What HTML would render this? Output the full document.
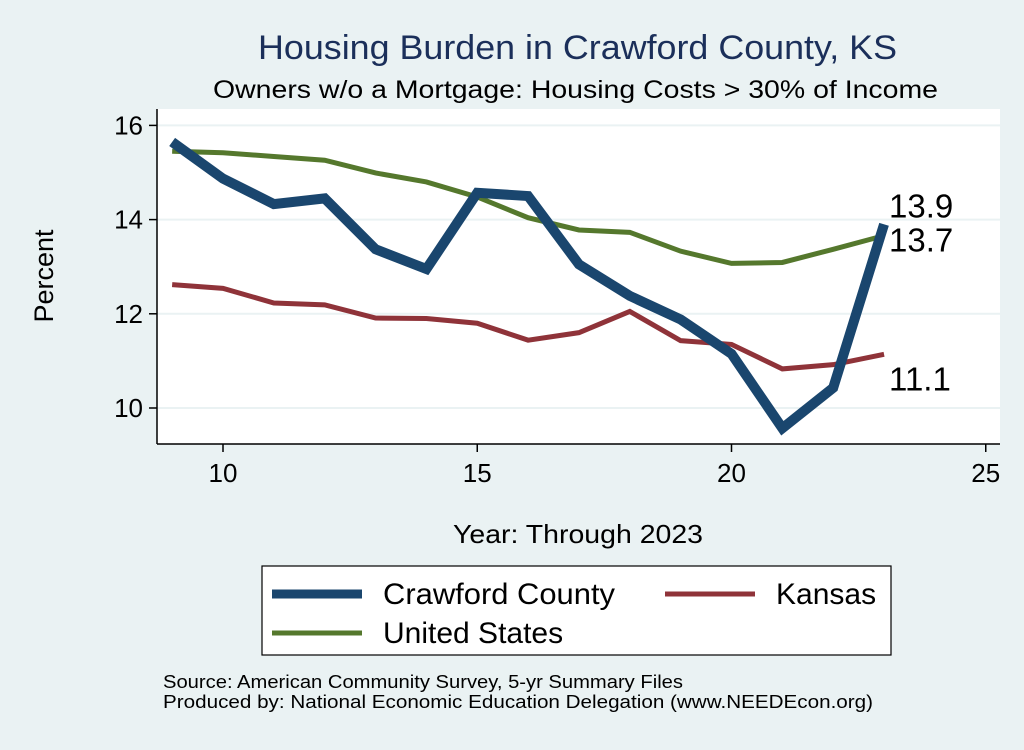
<!DOCTYPE html>
<html><head><meta charset="utf-8"><style>
body{margin:0;background:#EAF2F3;}
svg text{font-family:"Liberation Sans",sans-serif;}
</style></head><body>
<svg width="1024" height="745" viewBox="0 0 1024 745" xmlns="http://www.w3.org/2000/svg">
<rect width="1024" height="745" fill="#EAF2F3"/>
<text x="258" y="59" font-size="34" fill="#1B2F5A" textLength="639" lengthAdjust="spacingAndGlyphs">Housing Burden in Crawford County, KS</text>
<text x="213" y="98" font-size="25" fill="#000" textLength="725" lengthAdjust="spacingAndGlyphs">Owners w/o a Mortgage: Housing Costs &gt; 30% of Income</text>
<rect x="157" y="109" width="843" height="335" fill="#fff"/>
<g id="grid"></g>
<g id="series"></g>
<line x1="157" y1="109" x2="157" y2="444" stroke="#000" stroke-width="1.5"/>
<line x1="157" y1="444" x2="1000" y2="444" stroke="#000" stroke-width="1.5"/>
<g id="axes"></g>
<text x="53" y="276" font-size="27" text-anchor="middle" transform="rotate(-90 53 276)">Percent</text>
<text x="453" y="543" font-size="26" textLength="250" lengthAdjust="spacingAndGlyphs">Year: Through 2023</text>
<g>
<rect x="262" y="566" width="629" height="89" fill="#fff" stroke="#000" stroke-width="1.2"/>
<line x1="272" y1="594" x2="362" y2="594" stroke="#1A466E" stroke-width="9"/>
<text x="383" y="604" font-size="30" textLength="232" lengthAdjust="spacingAndGlyphs">Crawford County</text>
<line x1="665" y1="594" x2="755" y2="594" stroke="#8F3339" stroke-width="5"/>
<text x="776" y="604" font-size="30">Kansas</text>
<line x1="272" y1="633" x2="362" y2="633" stroke="#55782D" stroke-width="5"/>
<text x="383" y="643" font-size="30">United States</text>
</g>
<text x="163" y="688" font-size="18" textLength="520" lengthAdjust="spacingAndGlyphs">Source: American Community Survey, 5-yr Summary Files</text>
<text x="163" y="708" font-size="18" textLength="710" lengthAdjust="spacingAndGlyphs">Produced by: National Economic Education Delegation (www.NEEDEcon.org)</text>
</svg>
<script>
const years=[9,10,11,12,13,14,15,16,17,18,19,20,21,22,23];
const crawford=[15.65,14.87,14.33,14.45,13.37,12.95,14.57,14.5,13.05,12.38,11.88,11.15,9.57,10.43,13.9];
const kansas=[12.62,12.54,12.23,12.19,11.91,11.9,11.8,11.44,11.6,12.05,11.43,11.35,10.83,10.92,11.14];
const us=[15.45,15.42,15.34,15.26,14.99,14.8,14.48,14.04,13.78,13.73,13.33,13.07,13.09,13.37,13.66];
const xTicks=[10,15,20,25];
const yTicks=[10,12,14,16];
const endLabels=["13.9","13.7","11.1"];
const NS="http://www.w3.org/2000/svg";
function X(v){return 223+(v-10)*50.85;}
function Y(v){return 408-(v-10)*47.1;}
function mk(t,a,p){const e=document.createElementNS(NS,t);for(const k in a)e.setAttribute(k,a[k]);p.appendChild(e);return e;}
const grid=document.getElementById('grid'),axes=document.getElementById('axes'),ser=document.getElementById('series');
yTicks.forEach(v=>{
 const g=mk('line',{x1:157,x2:1000,y1:Y(v),y2:Y(v),stroke:'#EAF2F3','stroke-width':2},grid);
 
 
 const t=mk('line',{x1:149,x2:157,y1:Y(v),y2:Y(v),stroke:'#000','stroke-width':1.5},axes);
 
 
 const l=mk('text',{x:143,y:Y(v)+9,'font-size':26,'text-anchor':'end'},axes);l.textContent=v;
 
 
});
xTicks.forEach(v=>{
 const t=mk('line',{x1:X(v),x2:X(v),y1:444,y2:452,stroke:'#000','stroke-width':1.5},axes);
 
 
 const l=mk('text',{x:X(v),y:482,'font-size':26,'text-anchor':'middle'},axes);l.textContent=v;
 
 
});
function line(vals,col,w,name){
 const p=mk('polyline',{points:vals.map((v,i)=>X(years[i])+','+Y(v)).join(' '),fill:'none',stroke:col,'stroke-width':w,'stroke-linejoin':'miter'},ser);
 
 
}
line(kansas,'#8F3339',5,'line-kansas');
line(us,'#55782D',5,'line-united-states');
line(crawford,'#1A466E',10,'line-crawford-county');
const last=years.length-1;
[[crawford,-7],[us,16],[kansas,36]].forEach((d,i)=>{
 const t=mk('text',{x:X(years[last])+5,y:Y(d[0][last])+d[1],'font-size':33},ser);t.textContent=endLabels[i];
 
 
});
</script>
</body></html>
